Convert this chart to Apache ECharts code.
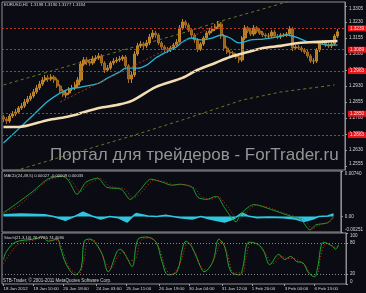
<!DOCTYPE html>
<html><head><meta charset="utf-8">
<script src="https://cdn.jsdelivr.net/npm/echarts@6/dist/echarts.min.js"></script>
<style>html,body{margin:0;padding:0;background:#0b0c13;}#c{width:366px;height:293px;}</style>
</head><body><div id="c"></div>
<script>
// ---- data (EURUSD) ----
const firstOpen = 1.2785;
const closes = [1.2775,1.2766,1.2789,1.2799,1.2808,1.2827,1.2836,1.2855,1.2869,1.2883,
 1.2902,1.2921,1.2939,1.2958,1.2968,1.2963,1.2972,1.2958,1.2930,1.2907,
 1.2888,1.2897,1.2916,1.2921,1.2935,1.2958,1.3033,1.3052,1.3043,1.3038,
 1.3057,1.3061,1.3071,1.3038,1.3005,1.3014,1.3038,1.3047,1.3052,1.3057,
 1.3066,1.3024,1.2963,1.2982,1.3080,1.3118,1.3127,1.3118,1.3132,1.3160,
 1.3178,1.3169,1.3132,1.3113,1.3103,1.3099,1.3108,1.3122,1.3136,1.3202,
 1.3230,1.3216,1.3193,1.3169,1.3146,1.3103,1.3127,1.3155,1.3178,1.3188,
 1.3197,1.3207,1.3221,1.3164,1.3108,1.3089,1.3085,1.3075,1.3066,1.3052,
 1.3155,1.3202,1.3188,1.3174,1.3202,1.3188,1.3178,1.3169,1.3164,1.3164,
 1.3183,1.3164,1.3160,1.3169,1.3169,1.3174,1.3197,1.3108,1.3113,1.3108,
 1.3099,1.3089,1.3071,1.3047,1.3047,1.3099,1.3132,1.3136,1.3122,1.3118,
 1.3127,1.3164,1.3184];
const highs = [1.2794,1.2785,1.2799,1.2813,1.2822,1.2836,1.2850,1.2869,1.2883,1.2897,
 1.2916,1.2935,1.2954,1.2972,1.2982,1.2982,1.2986,1.2982,1.2968,1.2939,
 1.2916,1.2907,1.2925,1.2935,1.2949,1.2972,1.3047,1.3066,1.3066,1.3057,
 1.3071,1.3075,1.3085,1.3080,1.3047,1.3028,1.3047,1.3061,1.3066,1.3071,
 1.3075,1.3075,1.3033,1.2996,1.3094,1.3132,1.3141,1.3136,1.3146,1.3174,
 1.3193,1.3188,1.3178,1.3141,1.3122,1.3113,1.3118,1.3132,1.3150,1.3216,
 1.3244,1.3239,1.3225,1.3202,1.3178,1.3155,1.3136,1.3164,1.3188,1.3202,
 1.3211,1.3221,1.3235,1.3230,1.3174,1.3118,1.3099,1.3094,1.3085,1.3075,
 1.3164,1.3216,1.3211,1.3197,1.3216,1.3211,1.3197,1.3188,1.3178,1.3178,
 1.3193,1.3193,1.3174,1.3178,1.3178,1.3183,1.3211,1.3207,1.3122,1.3122,
 1.3118,1.3108,1.3099,1.3080,1.3061,1.3108,1.3141,1.3146,1.3146,1.3132,
 1.3136,1.3174,1.3197];
const lows = [1.2761,1.2752,1.2757,1.2780,1.2789,1.2799,1.2818,1.2827,1.2846,1.2860,
 1.2874,1.2893,1.2911,1.2930,1.2949,1.2949,1.2954,1.2944,1.2921,1.2893,
 1.2879,1.2874,1.2888,1.2907,1.2911,1.2925,1.2949,1.3024,1.3028,1.3024,
 1.3028,1.3047,1.3052,1.3024,1.2991,1.2996,1.3005,1.3028,1.3038,1.3043,
 1.3047,1.3010,1.2944,1.2944,1.2972,1.3071,1.3108,1.3103,1.3108,1.3122,
 1.3150,1.3155,1.3122,1.3099,1.3089,1.3085,1.3089,1.3099,1.3113,1.3127,
 1.3193,1.3202,1.3183,1.3155,1.3132,1.3089,1.3094,1.3118,1.3146,1.3169,
 1.3178,1.3188,1.3197,1.3150,1.3094,1.3080,1.3071,1.3066,1.3057,1.3038,
 1.3043,1.3146,1.3178,1.3164,1.3164,1.3178,1.3169,1.3160,1.3155,1.3155,
 1.3155,1.3155,1.3150,1.3150,1.3160,1.3160,1.3164,1.3094,1.3099,1.3099,
 1.3089,1.3080,1.3061,1.3038,1.3033,1.3038,1.3089,1.3122,1.3113,1.3108,
 1.3108,1.3118,1.3155];
// moving averages / envelopes as [barIndex, price]
const maFast = [[0,1.2663],[5,1.2728],[10,1.2794],[15,1.2860],[21,1.2911],[26,1.2925],[32,1.2944],[35,1.2968],[39,1.2996],[41,1.3014],[45,1.3014],[48,1.3028],[51,1.3061],[54,1.3085],[58,1.3113],[60,1.3136],[63,1.3155],[66,1.3146],[70,1.3155],[73,1.3169],[76,1.3155],[79,1.3132],[83,1.3146],[87,1.3150],[92,1.3160],[95,1.3169],[99,1.3155],[102,1.3136],[105,1.3132],[109,1.3122],[112,1.3122]];
const maSlow = [[0,1.2738],[5,1.2738],[15,1.2771],[21,1.2785],[26,1.2803],[32,1.2827],[38,1.2841],[43,1.2860],[51,1.2925],[60,1.2968],[65,1.3005],[71,1.3038],[76,1.3066],[82,1.3089],[87,1.3108],[93,1.3118],[99,1.3132],[104,1.3136],[112,1.3141]];
const envUpper = [[0,1.2935],[15,1.2996],[32,1.3066],[43,1.3110],[60,1.3178],[73,1.3235],[87,1.3291],[97,1.3333],[112,1.3352]];
const envLower = [[0,1.2517],[8,1.2550],[25,1.2621],[43,1.2696],[60,1.2771],[80,1.2864],[93,1.2902],[111,1.2935]];
const levels = [1.3239,1.3089,1.2963,1.2850,1.2663];
const trendLine = [[19,1.2855],[74,1.3235]];
const lastPrice = 1.3184;
const priceTicks = [1.2555,1.2630,1.2705,1.2780,1.2855,1.2930,1.3005,1.3080,1.3155,1.3230,1.3305];
// MACD
const macdMain = [[0,0.00063],[4,0.00195],[10,0.00410],[15,0.00608],[20,0.00657],[22,0.00591],[25,0.00360],[28,0.00558],[32,0.00624],[35,0.00476],[40,0.00443],[43,0.00278],[46,0.00410],[50,0.00608],[54,0.00558],[57,0.00509],[60,0.00525],[64,0.00476],[66,0.00311],[69,0.00278],[72,0.00327],[73,0.00311],[75,0.00145],[79,-0.00086],[80,-0.00003],[82,0.00112],[85,0.00195],[88,0.00162],[91,0.00112],[94,0.00063],[98,-0.00003],[101,-0.00053],[104,-0.00218],[106,-0.00135],[110,-0.00102],[112,-0.00003]];
const macdSignal = [[0,0.0005],[5,0.0017],[10,0.0038],[15,0.0058],[20,0.0065],[23,0.0058],[26,0.0040],[29,0.0053],[33,0.0062],[36,0.0049],[41,0.0045],[44,0.0030],[47,0.0040],[51,0.0059],[55,0.0056],[58,0.0051],[61,0.0052],[65,0.0046],[67,0.0033],[70,0.0028],[73,0.0032],[76,0.0016],[80,-0.0006],[81,-0.0001],[83,0.0010],[86,0.0019],[89,0.0016],[92,0.0011],[95,0.0006],[99,0.0000],[102,-0.0005],[105,-0.0020],[107,-0.0014],[111,-0.0008],[112,-0.0001]];
const macdHist = [[0,0.0003],[6,0.0004],[14,0.0003],[17,0],[21,-0.0006],[24,0],[27,0.0007],[30,0.0001],[33,-0.0004],[36,0],[39,-0.0002],[42,-0.0009],[44,0.0001],[45,0.0005],[49,0.0001],[52,0],[55,0.0002],[60,-0.0002],[64,-0.0004],[67,0],[70,-0.0004],[75,-0.0009],[78,-0.0004],[81,0.0006],[83,0.0001],[86,-0.0002],[90,-0.0001],[95,-0.0002],[99,-0.0004],[102,-0.0008],[105,-0.0004],[107,0],[110,0.0001],[112,0.0004]];
const macdTicks = [-0.00251,0,0.0074];
// Stochastic
const stochMain = [[0,48],[1,64],[4,82],[10,88],[13,92],[15,84],[18,88],[19,72],[21,38],[24,18],[26,32],[27,84],[29,88],[31,78],[33,58],[35,24],[38,64],[39,68],[41,54],[43,34],[45,88],[48,92],[51,82],[53,44],[55,18],[58,24],[60,74],[61,84],[63,72],[66,32],[67,24],[70,44],[72,88],[74,72],[76,24],[79,18],[80,32],[82,82],[85,78],[87,64],[89,38],[92,58],[94,48],[96,54],[98,44],[100,42],[102,22],[104,14],[105,32],[107,82],[110,74],[111,68],[112,76.77]];
const stochSignal = [[0,40],[2,58],[5,78],[10,86],[14,90],[16,86],[18,86],[20,62],[22,32],[25,20],[27,48],[28,82],[30,86],[32,70],[34,44],[36,30],[38,52],[40,64],[42,46],[44,48],[46,86],[49,90],[52,72],[54,34],[56,18],[59,40],[61,76],[62,80],[64,62],[67,28],[68,28],[71,58],[73,84],[75,56],[77,22],[80,22],[81,50],[83,82],[86,74],[88,56],[90,40],[93,54],[95,50],[97,50],[99,44],[101,36],[103,18],[105,20],[106,54],[108,80],[111,72],[112,74.41]];
const stochTicks = [0,20,80,100];
const stochLevels = [20,80];
// time axis
const timeLabels = ['18 Jan 2012','19 Jan 10:00','20 Jan 18:00','24 Jan 03:00','25 Jan 11:00','26 Jan 19:00','30 Jan 04:00','31 Jan 12:00','1 Feb 20:00','3 Feb 04:00','6 Feb 13:00'];
const timeLabelIdx = [0,10,20,31,41,52,62,73,83,94,104];
const N = 115;

// ---- chart ----
const cats = Array.from({length:N},(_,i)=>String(i));
const candles = closes.map((c,i)=>{const o=i===0?firstOpen:closes[i-1];return [o,c,Math.min(lows[i],o,c),Math.max(highs[i],o,c)];});
const FONT = 'Liberation Sans';
const TXT = '#d4d4d4';
const BORDER = '#8e8e8e';
const gridBase = {left:2,right:20,show:true,borderColor:BORDER,borderWidth:1,backgroundColor:'transparent'};
function xAx(g,showLabels){
  return {type:'category',gridIndex:g,data:cats,boundaryGap:true,
    axisLine:{show:false},splitLine:{show:false},
    axisTick:showLabels?{show:true,alignWithLabel:true,length:2,interval:(i)=>timeLabelIdx.includes(i),lineStyle:{color:'#a0a0a0'}}:{show:false},
    axisLabel:showLabels?{show:true,interval:(i)=>timeLabelIdx.includes(i),formatter:(v,i)=>timeLabels[timeLabelIdx.indexOf(Number(v))],align:'left',fontSize:4.4,fontFamily:FONT,color:TXT,margin:3}:{show:false}};
}
function yAx(g,min,max,ticks,fmt){
  return {type:'value',gridIndex:g,position:'right',min:min,max:max,scale:true,
    splitLine:{show:false},axisLine:{show:true,lineStyle:{color:BORDER}},
    axisTick:{show:true,length:2,customValues:ticks,lineStyle:{color:'#a0a0a0'}},
    axisLabel:{show:true,customValues:ticks,formatter:fmt,fontSize:4.6,fontFamily:FONT,color:TXT,margin:4,
      verticalAlignMinLabel:'bottom',verticalAlignMaxLabel:'top'}};
}
const levelLines = levels.map(v=>({yAxis:v,lineStyle:{color:'#b5391c',type:[2,2],width:1},
  label:{show:true,position:'end',distance:3,formatter:v.toFixed(4),backgroundColor:'#e3161c',color:'#ffd8d8',fontSize:4.6,fontFamily:FONT,padding:[1,2,0,2]}}));
levelLines.push({yAxis:lastPrice,lineStyle:{opacity:0},
  label:{show:true,position:'end',distance:3,formatter:lastPrice.toFixed(4),backgroundColor:'#f2f2f2',color:'#000',fontSize:4.6,fontFamily:FONT,padding:[1,2,0,2]}});
levelLines.push([{coord:[String(trendLine[0][0]),trendLine[0][1]],lineStyle:{color:'#a8331a',type:[2,2],width:1},label:{show:false}},{coord:[String(trendLine[1][0]),trendLine[1][1]]}]);

const option = {
  backgroundColor:'#0b0c13',
  animation:false,
  grid:[Object.assign({top:2,height:168},gridBase),Object.assign({top:171,height:61},gridBase),Object.assign({top:233,height:51},gridBase)],
  xAxis:[xAx(0,false),xAx(1,false),xAx(2,true)],
  yAxis:[yAx(0,1.25363,1.33238,priceTicks,v=>v.toFixed(4)),
         yAx(1,-0.00251,0.0074,macdTicks,v=>v===0?'0.00':v.toFixed(5)),
         yAx(2,0,100,stochTicks,v=>String(v))],
  series:[
    {type:'line',name:'envUpper',xAxisIndex:0,yAxisIndex:0,data:envUpper,symbol:'none',lineStyle:{color:'#66782a',width:1,type:[3,3]},z:1},
    {type:'line',name:'envLower',xAxisIndex:0,yAxisIndex:0,data:envLower,symbol:'none',lineStyle:{color:'#66782a',width:1,type:[3,3]},z:1},
    {type:'candlestick',name:'EURUSD',xAxisIndex:0,yAxisIndex:0,data:candles,barWidth:2.6,
      itemStyle:{color:'#b47a22',color0:'#95611a',borderColor:'#bf8529',borderColor0:'#a36c1f',borderWidth:1},
      markLine:{silent:true,symbol:'none',animation:false,data:levelLines},z:2},
    {type:'line',name:'maFast',xAxisIndex:0,yAxisIndex:0,data:maFast,symbol:'none',smooth:0.3,lineStyle:{color:'#22b6d0',width:1.3},z:3},
    {type:'line',name:'maSlow',xAxisIndex:0,yAxisIndex:0,data:maSlow,symbol:'none',smooth:0.3,lineStyle:{color:'#f4ddb2',width:2.6},z:4},
    {type:'line',name:'hist',xAxisIndex:1,yAxisIndex:1,data:macdHist,symbol:'none',lineStyle:{color:'#2fc6e0',width:1.5},areaStyle:{color:'#2fc6e0',opacity:1},z:2},
    {type:'line',name:'macd',xAxisIndex:1,yAxisIndex:1,data:macdMain,symbol:'none',smooth:0.25,lineStyle:{color:'#1f9a2a',width:1},z:3},
    {type:'line',name:'macdSig',xAxisIndex:1,yAxisIndex:1,data:macdSignal,symbol:'none',smooth:0.25,lineStyle:{color:'#c0301c',width:1,type:[1,2]},z:4},
    {type:'line',name:'stoch',xAxisIndex:2,yAxisIndex:2,data:stochMain,symbol:'none',smooth:0.35,lineStyle:{color:'#22a82c',width:1},z:3,
      markLine:{silent:true,symbol:'none',data:stochLevels.map(v=>({yAxis:v})),lineStyle:{color:'#8a8a8a',type:[1,2],width:1},label:{show:false}}},
    {type:'line',name:'stochSig',xAxisIndex:2,yAxisIndex:2,data:stochSignal,symbol:'none',smooth:0.35,lineStyle:{color:'#c8321e',width:1,type:[1,2]},z:4}
  ],
  graphic:[
    {type:'text',left:4,top:3,z:100,style:{text:'EURUSD,H1  1.3198 1.3190 1.3177 1.3184',fill:TXT,font:'4.2px "Liberation Sans"'}},
    {type:'text',left:4,top:174,z:100,style:{text:'MACD(24,49,5) 0.00027 -0.00009 0.00035',fill:TXT,font:'4.2px "Liberation Sans"'}},
    {type:'text',left:4,top:236,z:100,style:{text:'Stoch(21,3,10) 76.7726 74.4080',fill:TXT,font:'4.2px "Liberation Sans"'}},
    {type:'text',left:3,top:278,z:100,style:{text:'STB-Trader, © 2001-2011 MetaQuotes Software Corp.',fill:TXT,font:'4.5px "Liberation Sans"'}},
    {type:'text',left:50,top:147,z:100,style:{text:'Портал для трейдеров - ForTrader.ru',fill:'#959595',font:'17px "Liberation Sans"'}}
  ]
};
const chart = echarts.init(document.getElementById('c'));
chart.setOption(option);
</script>
</body></html>
